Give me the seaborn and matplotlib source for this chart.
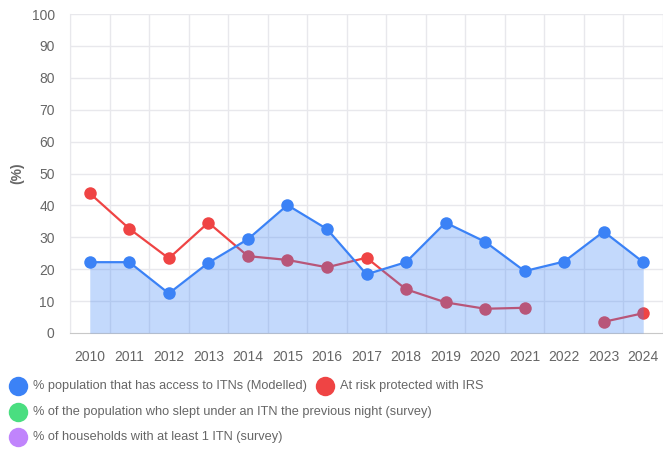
import numpy as np
import pandas as pd
import seaborn as sns
from matplotlib import pyplot as plt
from matplotlib.lines import Line2D

years = ['2010', '2011', '2012', '2013', '2014', '2015', '2016', '2017',
         '2018', '2019', '2020', '2021', '2022', '2023', '2024']
itn_access = [22.2, 22.2, 12.4, 22.0, 29.4, 40.1, 32.6, 18.4,
              22.2, 34.6, 28.6, 19.4, 22.4, 31.8, 22.2]
irs_protected = [43.8, 32.7, 23.4, 34.6, 24.1, 22.9, 20.6, 23.6,
                 13.7, 9.6, 7.6, 7.9, np.nan, 3.5, 6.2]
legend_labels = ['% population that has access to ITNs (Modelled)',
                 'At risk protected with IRS',
                 '% of the population who slept under an ITN the previous night (survey)',
                 '% of households with at least 1 ITN (survey)']

blue = '#3b82f6'
red = '#ef4444'
green = '#4ade80'
purple = '#c084fc'
grey = '#666666'
grid = '#e8e8ec'

sns.set_style('white')
plt.rcParams['font.family'] = ['Liberation Sans', 'DejaVu Sans']

df = pd.DataFrame({'year': years, 'pos': np.arange(len(years)),
                   'itn': itn_access, 'irs': irs_protected})

fig = plt.figure(figsize=(6.63, 4.51), dpi=100)
ax = fig.add_axes([70 / 663, 1 - 333 / 451, 593 / 663, 319 / 451])

# red series, split where data is missing
seg = df['irs'].isna().cumsum()
for _, part in df[df['irs'].notna()].groupby(seg[df['irs'].notna()]):
    sns.lineplot(data=part, x='pos', y='irs', ax=ax, color=red, lw=1.6,
                 marker='o', markersize=9, markeredgewidth=0, zorder=2)

ax.fill_between(df['pos'], 0, df['itn'], color=blue, alpha=0.3, lw=0, zorder=3)
sns.lineplot(data=df, x='pos', y='itn', ax=ax, color=blue, lw=1.6,
             marker='o', markersize=9, markeredgewidth=0, zorder=4)

ax.set_xlim(-0.5, len(years) - 0.5)
ax.set_ylim(0, 100)
ax.set_yticks(range(0, 101, 10))
ax.set_xticks(df['pos'])
ax.set_xticklabels(years)
ax.set_xticks(np.arange(-0.5, len(years), 1), minor=True)
ax.grid(False)
for v in range(10, 101, 10):
    ax.axhline(v, color=grid, lw=1, zorder=0)
for v in np.arange(-0.5, len(years), 1):
    ax.axvline(v, color=grid, lw=1, zorder=0)
ax.tick_params(axis='both', which='major', length=0, labelsize=10,
               labelcolor=grey, pad=6)
ax.tick_params(axis='x', which='major', pad=12)
ax.tick_params(axis='x', which='minor', length=8, color=grid, width=1)
ax.tick_params(axis='y', pad=11)
for s in ['top', 'right']:
    ax.spines[s].set_visible(False)
ax.spines['left'].set_color(grid)
ax.spines['bottom'].set_color('#c8c8c8')
ax.set_xlabel('')
ax.set_ylabel('(%)', fontsize=10, fontweight='bold', color=grey, labelpad=5)

# legend laid out like the original
items = [(legend_labels[0], blue, 18, 386), (legend_labels[1], red, 325, 386),
         (legend_labels[2], green, 18, 412), (legend_labels[3], purple, 18, 437)]
for label, col, px, py in items:
    fx, fy = px / 663, 1 - py / 451
    fig.add_artist(Line2D([fx], [fy], marker='o', markersize=14, color=col,
                          markeredgewidth=0, transform=fig.transFigure))
    fig.text(fx + 15 / 663, fy, label, fontsize=9.2, color=grey, va='center')

fig.savefig('out.png', dpi=100)
